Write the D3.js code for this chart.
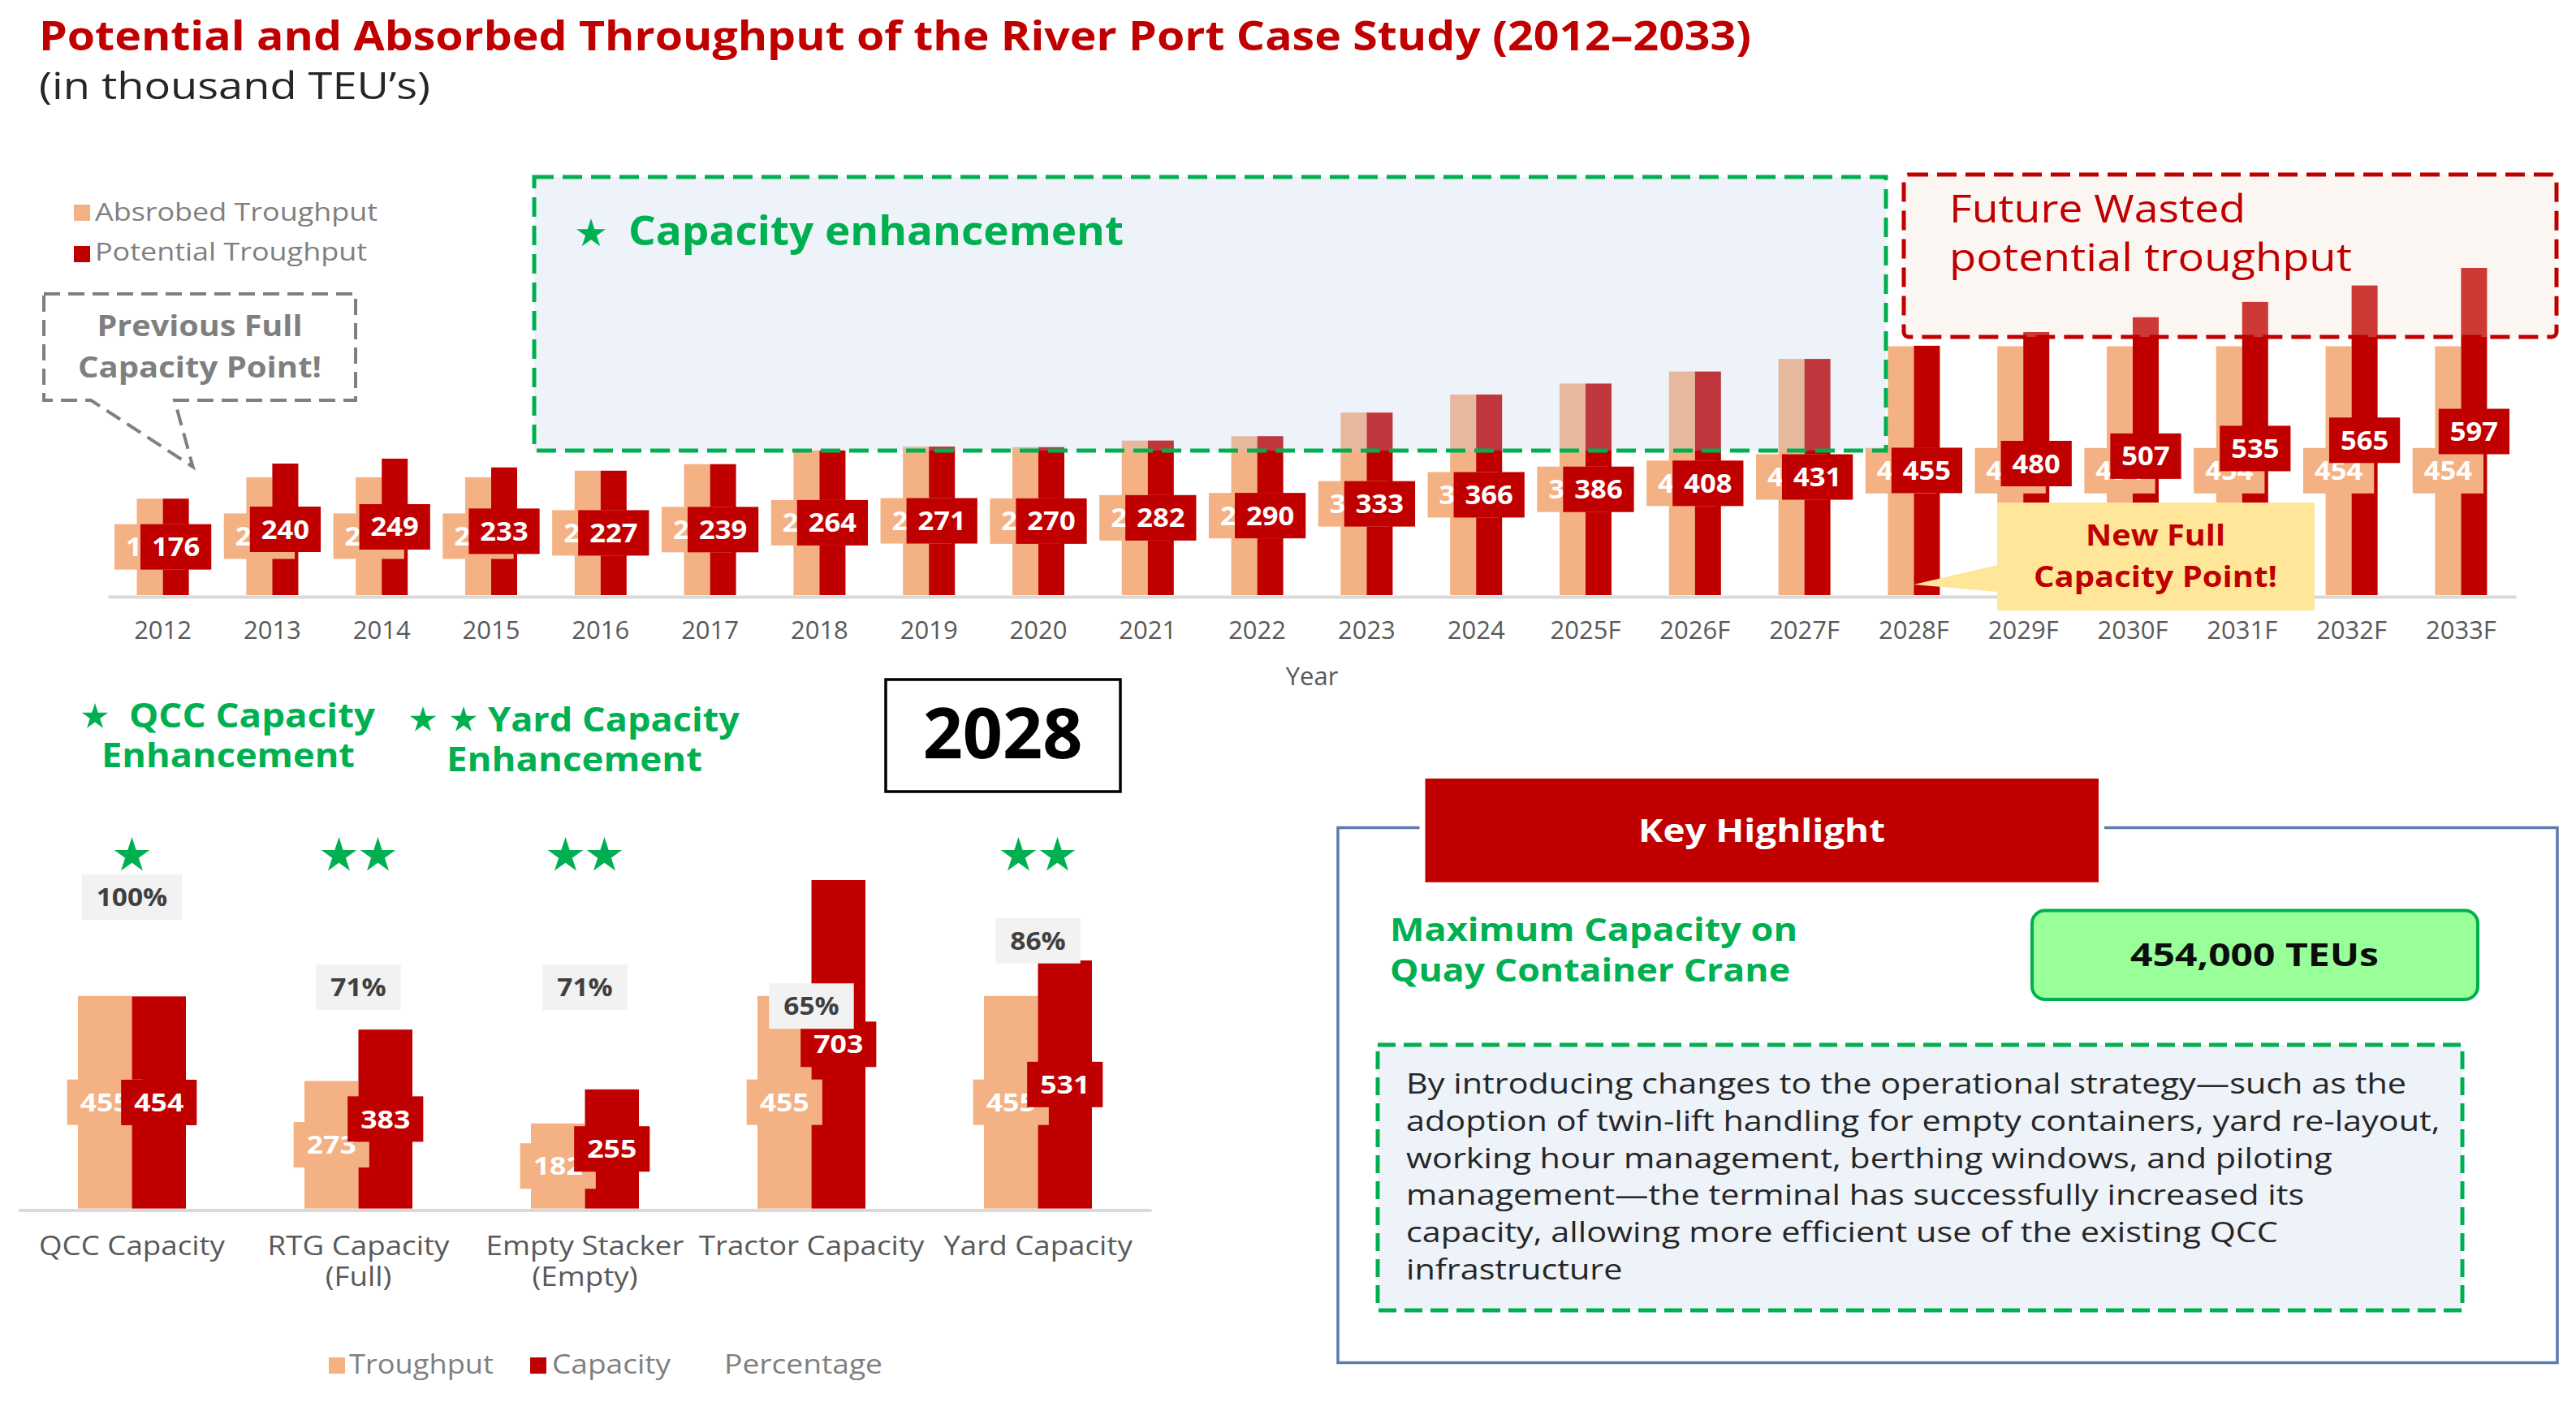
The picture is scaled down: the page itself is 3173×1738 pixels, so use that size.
<!DOCTYPE html>
<html><head><meta charset="utf-8">
<script src="https://cdn.jsdelivr.net/npm/d3@7"></script>
<style>
html,body{margin:0;padding:0;background:#fff;}
svg{display:block;}
text{font-family:'Open Sans','Noto Sans',sans-serif;}
</style></head><body>
<svg id="c" width="3173" height="1738"></svg>
<script>
// ---------- DATA ----------
const years = ['2012','2013','2014','2015','2016','2017','2018','2019','2020','2021','2022','2023','2024','2025F','2026F','2027F','2028F','2029F','2030F','2031F','2032F','2033F'];
const absorbed = [176,215,215,215,227,239,264,271,270,282,290,333,366,386,408,431,454,454,454,454,454,454];
const potential = [176,240,249,233,227,239,264,271,270,282,290,333,366,386,408,431,455,480,507,535,565,597];

const equipCats = ['QCC Capacity','RTG Capacity\n(Full)','Empty Stacker\n(Empty)','Tractor Capacity','Yard Capacity'];
const equipThroughput = [455,273,182,455,455];
const equipCapacity = [454,383,255,703,531];
const equipPercent = [100,71,71,65,86];
const equipStars = [1,2,2,0,2];

const paragraph = [
  'By introducing changes to the operational strategy\u2014such as the',
  'adoption of twin-lift handling for empty containers, yard re-layout,',
  'working hour management, berthing windows, and piloting',
  'management\u2014the terminal has successfully increased its',
  'capacity, allowing more efficient use of the existing QCC',
  'infrastructure'
];

// ---------- STYLE ----------
const ORANGE = '#F4B183', RED = '#C00000', GREEN = '#00B050', GRAY = '#7F7F7F', AXT = '#595959';

const svg = d3.select('#c');
svg.append('rect').attr('width',3173).attr('height',1738).attr('fill','#fff');

function fitW(sel, w){ sel.attr('textLength', w).attr('lengthAdjust','spacingAndGlyphs'); return sel; }
function starPath(cx, cy, R){
  const r = R*0.382; let p='';
  for(let i=0;i<10;i++){ const a=-Math.PI/2+i*Math.PI/5; const rr=i%2?r:R;
    p += (i?'L':'M')+(cx+rr*Math.cos(a)).toFixed(2)+','+(cy+rr*Math.sin(a)).toFixed(2); }
  return p+'Z';
}
function txt(g, x, y, s, size, weight, fill, anchor){
  return g.append('text').attr('x',x).attr('y',y).text(s)
    .attr('font-size',size).attr('font-weight',weight).attr('fill',fill)
    .attr('text-anchor',anchor||'start');
}
function labelBox(g, cx, cy, s, size, bg, fg, pad, h, stretch){
  const gg = g.append('g');
  const r = gg.append('rect').attr('fill',bg);
  const t = gg.append('text').attr('x',cx).attr('y',cy).attr('dy','0.36em')
    .attr('text-anchor','middle').attr('font-size',size).attr('font-weight',700)
    .attr('fill',fg).text(s);
  let tw = t.node().getComputedTextLength();
  if(stretch){ tw *= stretch; fitW(t, tw); }
  const w = tw + 2*pad;
  r.attr('x',cx-w/2).attr('y',cy-h/2).attr('width',w).attr('height',h);
}

// ---------- TITLE ----------
fitW(txt(svg,48,62,'Potential and Absorbed Throughput of the River Port Case Study (2012\u20132033)',51,700,RED),2109);
fitW(txt(svg,48,122,'(in thousand TEU\u2019s)',46,400,'#262626'),482);

// ---------- TOP CHART ----------
const X0 = d3.scaleBand().domain(years).range([133,3099]).paddingInner(0.525).paddingOuter(0.264);
const X1 = d3.scaleBand().domain(['abs','pot']).range([0,X0.bandwidth()]);
const Y = d3.scaleLinear().domain([0,600]).range([733,328]);
const topG = svg.append('g');
const rows = years.map((y,i)=>({year:y, abs:absorbed[i], pot:potential[i]}));

topG.selectAll('rect.abs').data(rows).join('rect').attr('class','abs')
  .attr('x',d=>X0(d.year)+X1('abs')).attr('width',X1.bandwidth())
  .attr('y',d=>Y(d.abs)).attr('height',d=>Y(0)-Y(d.abs)).attr('fill',ORANGE);
topG.selectAll('rect.pot').data(rows).join('rect').attr('class','pot')
  .attr('x',d=>X0(d.year)+X1('pot')).attr('width',X1.bandwidth())
  .attr('y',d=>Y(d.pot)).attr('height',d=>Y(0)-Y(d.pot)).attr('fill',RED);

const ax = topG.append('g').attr('transform','translate(0,735)')
  .call(d3.axisBottom(X0).tickSize(0).tickSizeOuter(0).tickPadding(30));
ax.select('.domain').attr('stroke','#D9D9D9').attr('stroke-width',4);
ax.selectAll('.tick text').attr('font-size',31).attr('fill',AXT).attr('font-family',"'Open Sans',sans-serif");
txt(topG,1616,844,'Year',31,400,AXT,'middle');

const labs = topG.append('g');
rows.forEach(d=>{
  labelBox(labs, X0(d.year)+X1('abs')+X1.bandwidth()/2, (Y(d.abs)+Y(0))/2, d.abs, 32, ORANGE, '#fff', 14, 56, 1.08);
});
rows.forEach(d=>{
  labelBox(labs, X0(d.year)+X1('pot')+X1.bandwidth()/2, (Y(d.pot)+Y(0))/2, d.pot, 32, RED, '#fff', 14, 56, 1.08);
});

// annotation boxes (semi-transparent overlays)
topG.append('rect').attr('x',658).attr('y',218).attr('width',1665).attr('height',337)
  .attr('fill','rgba(188,208,235,0.26)').attr('stroke',GREEN).attr('stroke-width',5).attr('stroke-dasharray','24,11');
topG.append('rect').attr('x',2345).attr('y',215).attr('width',804).attr('height',200).attr('rx',6)
  .attr('fill','rgba(242,222,205,0.26)').attr('stroke',RED).attr('stroke-width',5).attr('stroke-dasharray','24,11');
topG.append('path').attr('d',starPath(728,288,19)).attr('fill',GREEN);
fitW(txt(topG,774,302,'Capacity enhancement',50,700,GREEN),610);
fitW(txt(topG,2401,274,'Future Wasted',48,400,RED),365);
fitW(txt(topG,2401,334,'potential troughput',48,400,RED),496);

// legend
topG.append('rect').attr('x',91).attr('y',252).attr('width',20).attr('height',20).attr('fill',ORANGE);
topG.append('rect').attr('x',91).attr('y',303).attr('width',20).attr('height',20).attr('fill',RED);
fitW(txt(topG,117,272,'Absrobed Troughput',31,400,GRAY),348);
fitW(txt(topG,117,321,'Potential Troughput',31,400,GRAY),335);

// previous full capacity callout
const tipPrev = [X0('2012')+X0.bandwidth()/2+37, 575];
topG.append('path')
  .attr('d',`M54,362H438V493H215L${tipPrev[0]},${tipPrev[1]}L112,493H54Z`)
  .attr('fill','none').attr('stroke',GRAY).attr('stroke-width',4).attr('stroke-dasharray','20,10');
fitW(txt(topG,246,414,'Previous Full',36,700,GRAY,'middle'),253);
fitW(txt(topG,246,465,'Capacity Point!',36,700,GRAY,'middle'),300);

// new full capacity callout
const tipNew = X0('2028F')+X0.bandwidth()/2;
topG.append('path')
  .attr('d',`M2460,619H2851V752H2460V729L${tipNew},720L2460,696Z`).attr('fill','#FFE699');
fitW(txt(topG,2655,672,'New Full',36,700,RED,'middle'),172);
fitW(txt(topG,2655,723,'Capacity Point!',36,700,RED,'middle'),300);

// ---------- BOTTOM-LEFT CHART ----------
const XB0 = d3.scaleBand().domain(equipCats).range([23,1418]).paddingInner(0.5233).paddingOuter(0.2616);
const XB1 = d3.scaleBand().domain(['t','c']).range([0,XB0.bandwidth()]);
const YB = d3.scaleLinear().domain([0,700]).range([1488.6,1085.75]);
const YP = d3.scaleLinear().domain([0,100]).range([1488.6,1105]);
const bot = svg.append('g');
const erows = equipCats.map((c,i)=>({cat:c,t:equipThroughput[i],c:equipCapacity[i],p:equipPercent[i],s:equipStars[i]}));

bot.selectAll('rect.t').data(erows).join('rect').attr('class','t')
  .attr('x',d=>XB0(d.cat)+XB1('t')).attr('width',XB1.bandwidth())
  .attr('y',d=>YB(d.t)).attr('height',d=>YB(0)-YB(d.t)).attr('fill',ORANGE);
bot.selectAll('rect.c').data(erows).join('rect').attr('class','c')
  .attr('x',d=>XB0(d.cat)+XB1('c')).attr('width',XB1.bandwidth())
  .attr('y',d=>YB(d.c)).attr('height',d=>YB(0)-YB(d.c)).attr('fill',RED);

const bax = bot.append('g').attr('transform','translate(0,1490.5)')
  .call(d3.axisBottom(XB0).tickSize(0).tickSizeOuter(0).tickPadding(0));
bax.select('.domain').attr('stroke','#D9D9D9').attr('stroke-width',4);
const tspans = [];
bax.selectAll('.tick text').attr('font-size',32).attr('fill',AXT).attr('font-family',"'Open Sans',sans-serif")
  .attr('y',0).attr('dy',null)
  .each(function(d){
    const el = d3.select(this); el.text(null);
    d.split('\n').forEach((line,k)=>{
      const ts = el.append('tspan').attr('x',0).attr('y',55+k*38).text(line);
      tspans.push(ts);
    });
  });
const kAx = 229 / tspans[0].node().getComputedTextLength();
tspans.forEach(ts=>fitW(ts, ts.node().getComputedTextLength()*kAx));

const blabs = bot.append('g');
erows.forEach(d=>labelBox(blabs, XB0(d.cat)+XB1('t')+XB1.bandwidth()/2, (YB(d.t)+YB(0))/2, d.t, 31, ORANGE, '#fff', 16, 56, 1.15));
erows.forEach(d=>labelBox(blabs, XB0(d.cat)+XB1('c')+XB1.bandwidth()/2, (YB(d.c)+YB(0))/2, d.c, 31, RED, '#fff', 16, 56, 1.15));
erows.forEach(d=>labelBox(blabs, XB0(d.cat)+XB0.bandwidth()/2, YP(d.p), d.p+'%', 31, '#F2F2F2', '#404040', 18, 56, 1.08));

// stars
erows.forEach(d=>{
  const cx = XB0(d.cat)+XB0.bandwidth()/2;
  for(let k=0;k<d.s;k++){
    const sx = cx + (k-(d.s-1)/2)*48;
    bot.append('path').attr('d',starPath(sx,1054,23)).attr('fill',GREEN);
  }
});

// headings
bot.append('path').attr('d',starPath(117,883,17)).attr('fill',GREEN);
fitW(txt(bot,159,896,'QCC Capacity',42,700,GREEN),303);
fitW(txt(bot,125,945,'Enhancement',42,700,GREEN),312);
bot.append('path').attr('d',starPath(521,887,17)).attr('fill',GREEN);
bot.append('path').attr('d',starPath(571,887,17)).attr('fill',GREEN);
fitW(txt(bot,601,901,'Yard Capacity',42,700,GREEN),310);
fitW(txt(bot,550,950,'Enhancement',42,700,GREEN),315);

bot.append('rect').attr('x',1091).attr('y',837).attr('width',289).attr('height',138)
  .attr('fill','#fff').attr('stroke','#000').attr('stroke-width',3.5);
txt(bot,1235,934,'2028',86,700,'#000','middle');

// bottom legend
bot.append('rect').attr('x',405).attr('y',1672).attr('width',20).attr('height',20).attr('fill',ORANGE);
fitW(txt(bot,430,1692,'Troughput',32,400,GRAY),178);
bot.append('rect').attr('x',653).attr('y',1672).attr('width',20).attr('height',20).attr('fill',RED);
fitW(txt(bot,680,1692,'Capacity',32,400,GRAY),146);
fitW(txt(bot,892,1692,'Percentage',32,400,GRAY),195);

// ---------- KEY HIGHLIGHT ----------
const kh = svg.append('g');
kh.append('rect').attr('x',1648).attr('y',1019.5).attr('width',1502).attr('height',659)
  .attr('fill','none').attr('stroke','#5B7BAF').attr('stroke-width',3.5);
kh.append('rect').attr('x',1748.5).attr('y',952).attr('width',843.5).attr('height',141.7).attr('fill','#fff');
kh.append('rect').attr('x',1755.5).attr('y',959).attr('width',829.5).attr('height',127.7).attr('fill',RED);
fitW(txt(kh,2170,1037,'Key Highlight',40,700,'#fff','middle'),304);
fitW(txt(kh,1712,1159,'Maximum Capacity on',39,700,GREEN),502);
fitW(txt(kh,1712,1209,'Quay Container Crane',39,700,GREEN),493);
kh.append('rect').attr('x',2503).attr('y',1121.5).attr('width',549).attr('height',109.5).attr('rx',16)
  .attr('fill','#99FF99').attr('stroke',GREEN).attr('stroke-width',4);
fitW(txt(kh,2777,1190,'454,000 TEUs',40,700,'#0D0D0D','middle'),306);
kh.append('rect').attr('x',1697).attr('y',1287).attr('width',1336).attr('height',327)
  .attr('fill','#EEF2F9').attr('stroke',GREEN).attr('stroke-width',5).attr('stroke-dasharray','22,10');
const ptext = kh.append('g');
const pl = paragraph.map((s,i)=>txt(ptext,1732,1347+i*45.8,s,34,400,'#262626'));
const kf = 1232 / pl[0].node().getComputedTextLength();
pl.forEach(t=>fitW(t, t.node().getComputedTextLength()*kf));
</script>
</body></html>
